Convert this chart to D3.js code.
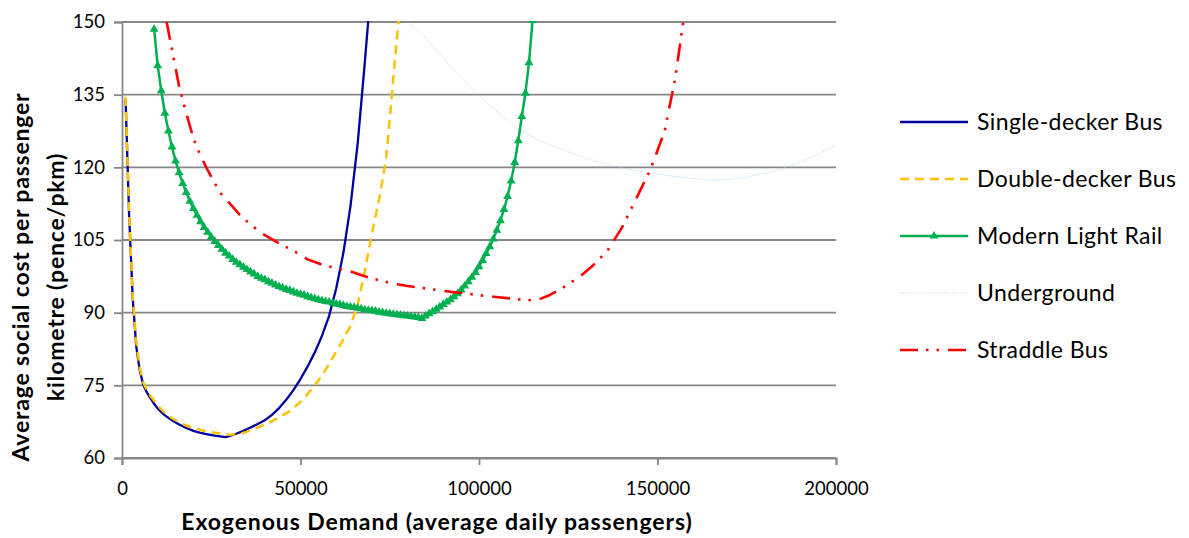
<!DOCTYPE html>
<html>
<head>
<meta charset="utf-8">
<script src="https://cdn.jsdelivr.net/npm/d3@7"></script>
<style>
  html, body { margin: 0; padding: 0; background: #ffffff; }
  svg { display: block; }
  text { font-family: Lato, "Open Sans", sans-serif; fill: #000; }
</style>
</head>
<body>
<svg id="chart" width="1189" height="538"></svg>
<script>
// ---- data ----
const yTicks = [60, 75, 90, 105, 120, 135, 150];
const xTicks = [0, 50000, 100000, 150000, 200000];
const xTickLabels = ["0", "50000", "100000", "150000", "200000"];

const seriesNames = ["Single-decker Bus", "Double-decker Bus", "Modern Light Rail", "Underground", "Straddle Bus"];

const singleDemand = [1000,2000,3000,4000,5000,6000,7000,8000,9000,10000,12000,14000,16000,18000,20000,22000,24000,26000,28000,29000,30000,32000,34000,36000,38000,40000,42000,44000,46000,48000,50000,52000,54000,56000,58000,60000,62000,64000,66000,68000,69000];
const singleCost = [134,110,93,83,78,75,73.5,72.3,71.2,70.2,68.8,67.8,66.9,66.2,65.6,65.2,64.9,64.6,64.4,64.3,64.5,65.0,65.6,66.3,67.0,67.8,68.9,70.3,72.0,74.0,76.3,78.9,81.8,85.2,89.3,95.0,102.3,112.0,124.8,141.5,150.5];

const doubleDemand = [1000,2000,3000,4000,5000,6000,7000,8000,9000,10000,12000,14000,16000,18000,20000,22000,24000,26000,28000,30000,32000,34000,36000,38000,40000,42000,44000,46000,48000,50000,52000,54000,56000,58000,60000,62000,64000,66000,68000,70000,72000,73000,74000,75000,76000,77000,77500];
const doubleCost = [134.5,110.5,93.5,84,78.5,75.5,74,72.8,71.8,70.8,69.3,68.2,67.4,66.7,66.2,65.8,65.5,65.2,65.0,64.8,64.9,65.2,65.7,66.3,66.9,67.6,68.4,69.2,70.3,71.6,73.2,75.0,77.0,79.4,82.0,84.5,87.3,91.6,98.5,106.3,113.3,117.5,122.0,130.0,138.5,146.5,150.5];

const railDemand = [9000,10000,11000,12000,13000,14000,15000,16000,17000,18000,19000,20000,21000,22000,23000,24000,25000,26000,27000,28000,29000,30000,31000,32000,33000,34000,35000,36000,37000,38000,39000,40000,41000,42000,43000,44000,45000,46000,47000,48000,49000,50000,51000,52000,53000,54000,55000,56000,57000,58000,59000,60000,61000,62000,63000,64000,65000,66000,67000,68000,69000,70000,71000,72000,73000,74000,75000,76000,77000,78000,79000,80000,81000,82000,83000,84000,85000,86000,87000,88000,89000,90000,91000,92000,93000,94000,95000,96000,97000,98000,99000,100000,101000,102000,103000,104000,105000,106000,107000,108000,109000,110000,111000,112000,113000,114000,115000];
const railCost = [148.5,141.0,135.8,131.2,127.5,124.2,121.3,118.9,116.7,114.8,113.0,111.5,110.1,108.8,107.6,106.6,105.6,104.7,103.9,103.1,102.3,101.7,101.0,100.4,99.9,99.4,98.9,98.4,98.0,97.5,97.1,96.8,96.4,96.1,95.7,95.4,95.1,94.8,94.6,94.3,94.0,93.8,93.6,93.3,93.1,92.9,92.7,92.5,92.3,92.2,92.0,91.8,91.7,91.5,91.3,91.2,91.1,90.9,90.8,90.6,90.5,90.4,90.3,90.1,90.0,89.9,89.8,89.7,89.6,89.5,89.4,89.3,89.2,89.1,89.0,88.8,89.3,89.8,90.2,90.7,91.2,91.7,92.2,92.7,93.3,93.9,94.7,95.5,96.4,97.3,98.3,99.5,100.8,102.2,103.6,105.2,107.0,109.0,111.3,114.0,117.2,121.0,125.5,130.5,135.3,141.6,150.3];

const undergroundDemand = [78000,80000,85000,90000,95000,100000,105000,110000,115000,120000,125000,130000,135000,140000,145000,150000,155000,160000,165000,170000,175000,180000,185000,190000,195000,200000];
const undergroundCost = [152,150,146.8,142.5,138.5,134.8,131.5,128.5,126.2,124.6,123.2,121.9,120.8,119.9,119.2,118.6,118.1,117.7,117.4,117.5,118.0,118.8,119.8,121.1,122.7,124.6];

const straddleDemand = [12500,14000,16000,18000,20000,22000,24000,26000,28000,30000,33000,36000,40000,44000,48000,52000,56000,60000,64000,68000,72000,76000,80000,84000,88000,92000,96000,100000,104000,108000,112000,116000,120000,124000,128000,132000,136000,140000,144000,148000,152000,155000,157200];
const straddleCost = [150,144.3,136.7,131.2,126,122.4,119.4,116.7,114.3,112.7,110.2,108.2,106.0,104.3,102.8,101.0,99.9,99.2,98.5,97.5,96.7,96.0,95.5,95.1,94.7,94.3,94.0,93.6,93.3,93.0,92.7,92.5,93.7,95.4,97.3,99.8,102.8,107.5,113.5,119.5,127.5,138.5,150];

// ---- layout ----
const svg = d3.select("#chart");
const plot = { left: 122, right: 836, top: 22, bottom: 458 };

const x = d3.scaleLinear().domain([0, 200000]).range([plot.left, plot.right]);
const y = d3.scaleLinear().domain([60, 150]).range([plot.bottom, plot.top]);

const gridColor = "#878787";

// gridlines
svg.append("g").selectAll("line").data(yTicks).join("line")
  .attr("x1", plot.left).attr("x2", plot.right)
  .attr("y1", d => y(d)).attr("y2", d => y(d))
  .attr("stroke", gridColor).attr("stroke-width", 1.8);

// y axis
const yAxis = svg.append("g").attr("transform", `translate(${plot.left},0)`)
  .call(d3.axisLeft(y).tickValues(yTicks).tickSize(8).tickPadding(9).tickFormat(d3.format("d")));
yAxis.select(".domain").attr("stroke", gridColor).attr("stroke-width", 1.8);
yAxis.selectAll(".tick line").attr("stroke", gridColor).attr("stroke-width", 1.8);
yAxis.selectAll(".tick text").style("font-size", "18.5px").style("font-family", "Lato").attr("fill", "#000");

// x axis
const xAxis = svg.append("g").attr("transform", `translate(0,${plot.bottom})`)
  .call(d3.axisBottom(x).tickValues(xTicks).tickSize(7).tickPadding(17).tickFormat((d, i) => xTickLabels[i]));
xAxis.select(".domain").attr("stroke", gridColor).attr("stroke-width", 1.8);
xAxis.selectAll(".tick line").attr("stroke", gridColor).attr("stroke-width", 1.8);
xAxis.selectAll(".tick text").style("font-size", "18.5px").style("font-family", "Lato").attr("fill", "#000");

// axis titles
svg.append("text").attr("x", 437).attr("y", 530).attr("text-anchor", "middle")
  .style("font-size", "23px").style("font-weight", "bold").style("letter-spacing", "0.9px")
  .text("Exogenous Demand (average daily passengers)");

const yt = svg.append("text").attr("transform", "translate(29,277) rotate(-90)").attr("text-anchor", "middle")
  .style("font-size", "23px").style("font-weight", "bold").style("letter-spacing", "0.8px");
yt.append("tspan").attr("x", 0).attr("y", 0).text("Average social cost per passenger");
yt.append("tspan").attr("x", 0).attr("y", 35).text("kilometre  (pence/pkm)");

// clip
svg.append("clipPath").attr("id", "clip").append("rect")
  .attr("x", plot.left).attr("y", plot.top - 1)
  .attr("width", plot.right - plot.left + 2).attr("height", plot.bottom - plot.top + 1);

const styles = [
  { color: "#0000a0", width: 2.3, dash: null },
  { color: "#ffc000", width: 2.5, dash: "9,6" },
  { color: "#00b050", width: 2.5, dash: null, marker: true },
  { color: "#b4d0ef", width: 1, dash: "1,1.6" },
  { color: "#ff0000", width: 2.6, dash: "18,8,2.5,8,2.5,9" }
];

const series = [
  d3.zip(singleDemand, singleCost),
  d3.zip(doubleDemand, doubleCost),
  d3.zip(railDemand, railCost),
  d3.zip(undergroundDemand, undergroundCost),
  d3.zip(straddleDemand, straddleCost)
];

const line = d3.line().x(d => x(d[0])).y(d => y(d[1]));
const g = svg.append("g").attr("clip-path", "url(#clip)");

const drawOrder = [3, 0, 1, 2, 4];
const tri = d3.symbol().type(d3.symbolTriangle).size(34);

drawOrder.forEach(i => {
  const s = styles[i];
  g.append("path").datum(series[i])
    .attr("d", line).attr("fill", "none")
    .attr("stroke", s.color).attr("stroke-width", s.width)
    .attr("stroke-dasharray", s.dash).attr("stroke-linejoin", "round");
  if (s.marker) {
    g.append("g").selectAll("path").data(series[i]).join("path")
      .attr("d", tri)
      .attr("transform", d => `translate(${x(d[0])},${y(d[1])})`)
      .attr("fill", s.color);
  }
});

// legend
const legend = svg.append("g");
const legendY = [122, 179, 236, 293, 350];
seriesNames.forEach((name, i) => {
  const s = styles[i];
  const row = legend.append("g").attr("transform", `translate(0,${legendY[i]})`);
  row.append("line").attr("x1", 900).attr("x2", 968).attr("y1", 0).attr("y2", 0)
    .attr("stroke", s.color).attr("stroke-width", s.width)
    .attr("stroke-dasharray", s.dash);
  if (s.marker) {
    row.append("path").attr("d", tri).attr("transform", "translate(934,0)").attr("fill", s.color);
  }
  row.append("text").attr("x", 977).attr("y", 8).style("font-size", "23px").style("letter-spacing", "0.4px").text(name);
});
</script>
</body>
</html>
